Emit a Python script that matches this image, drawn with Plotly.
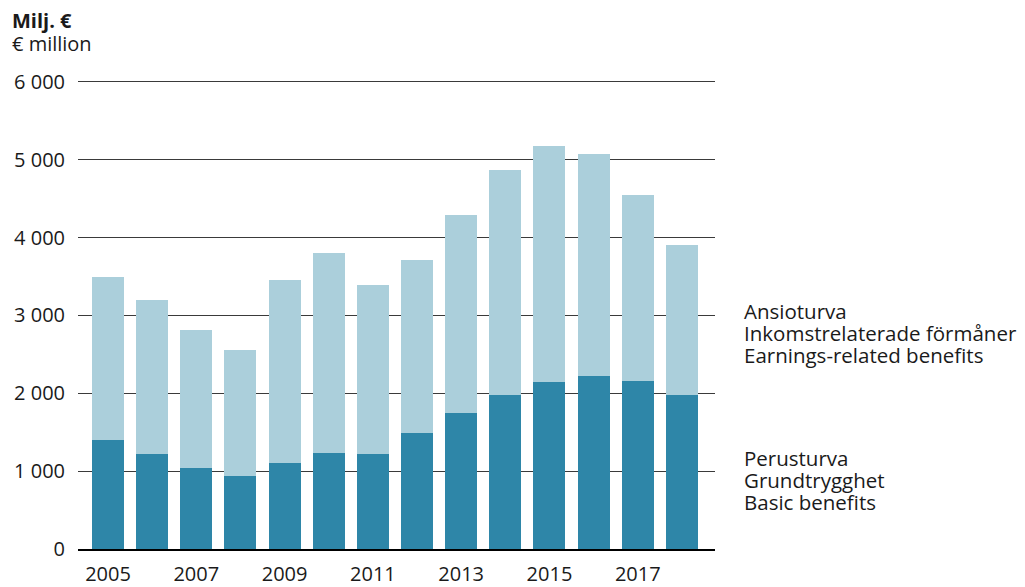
import plotly.graph_objects as go

# Data (milj. € / € million)
years = list(range(2005, 2019))
basic = [1400, 1220, 1040, 940, 1105, 1235, 1220, 1490, 1748, 1978, 2145, 2222, 2158, 1978]
total = [3490, 3196, 2810, 2555, 3453, 3800, 3389, 3709, 4286, 4863, 5183, 5068, 4542, 3901]
earnings = [t - b for t, b in zip(total, basic)]

basic_label = ["Perusturva", "Grundtrygghet", "Basic benefits"]
earnings_label = ["Ansioturva", "Inkomstrelaterade förmåner", "Earnings-related benefits"]

colors = {"basic": "#2e86a8", "earnings": "#abcfdb", "text": "#1a1a1a"}
font_family = "Open Sans"

# page has an 8px body margin, so the figure is shrunk and shifted
OFF = 8
W, H = 1025 - OFF, 587 - OFF
L, R, T, B = 78 - OFF, 310, 78 - OFF, 38
plot_h = H - T - B
plot_w = W - L - R


def py(pix):
    # page pixel row -> paper y
    return (H - B - (pix - OFF)) / plot_h


def px(pix):
    return (pix - OFF - L) / plot_w


fig = go.Figure()
fig.add_trace(go.Bar(x=years, y=basic, name="Basic", marker_color=colors["basic"], marker_line_width=0))
fig.add_trace(go.Bar(x=years, y=earnings, name="Earnings", marker_color=colors["earnings"], marker_line_width=0))

# labels on the right
for i, line in enumerate(earnings_label):
    fig.add_annotation(text=line, xref="paper", yref="paper", x=px(742), y=py(311 + 22 * i),
                       xanchor="left", yanchor="middle", showarrow=False,
                       font=dict(size=20.5, color=colors["text"]))
for i, line in enumerate(basic_label):
    fig.add_annotation(text=line, xref="paper", yref="paper", x=px(742), y=py(458 + 22 * i),
                       xanchor="left", yanchor="middle", showarrow=False,
                       font=dict(size=20.5, color=colors["text"]))

# unit title
fig.add_annotation(text="<b>Milj. €</b>", xref="paper", yref="paper", x=px(10), y=py(20),
                   xanchor="left", yanchor="middle", showarrow=False,
                   font=dict(size=20, color=colors["text"]))
fig.add_annotation(text="€ million", xref="paper", yref="paper", x=px(10), y=py(43),
                   xanchor="left", yanchor="middle", showarrow=False,
                   font=dict(size=20, color=colors["text"]))

fig.update_layout(
    width=W, height=H,
    barmode="stack", bargap=0.275,
    showlegend=False,
    plot_bgcolor="white", paper_bgcolor="white",
    separators=", ",
    font=dict(family=font_family, size=20, color=colors["text"]),
    margin=dict(l=L, r=R, t=T, b=B, autoexpand=False),
    xaxis=dict(range=[2004.32, 2018.75], tickvals=years[::2], showgrid=False,
               showline=True, linecolor="black", linewidth=1.5, ticks="",
               ticklabelstandoff=6, automargin=False),
    yaxis=dict(range=[0, 6050], tickvals=[0, 1000, 2000, 3000, 4000, 5000, 6000],
               tickformat=",d", showgrid=True, gridcolor="#3a3a3a", gridwidth=1,
               zeroline=False, ticks="", ticklabelstandoff=12, automargin=False),
)

fig.write_html("out.html")
